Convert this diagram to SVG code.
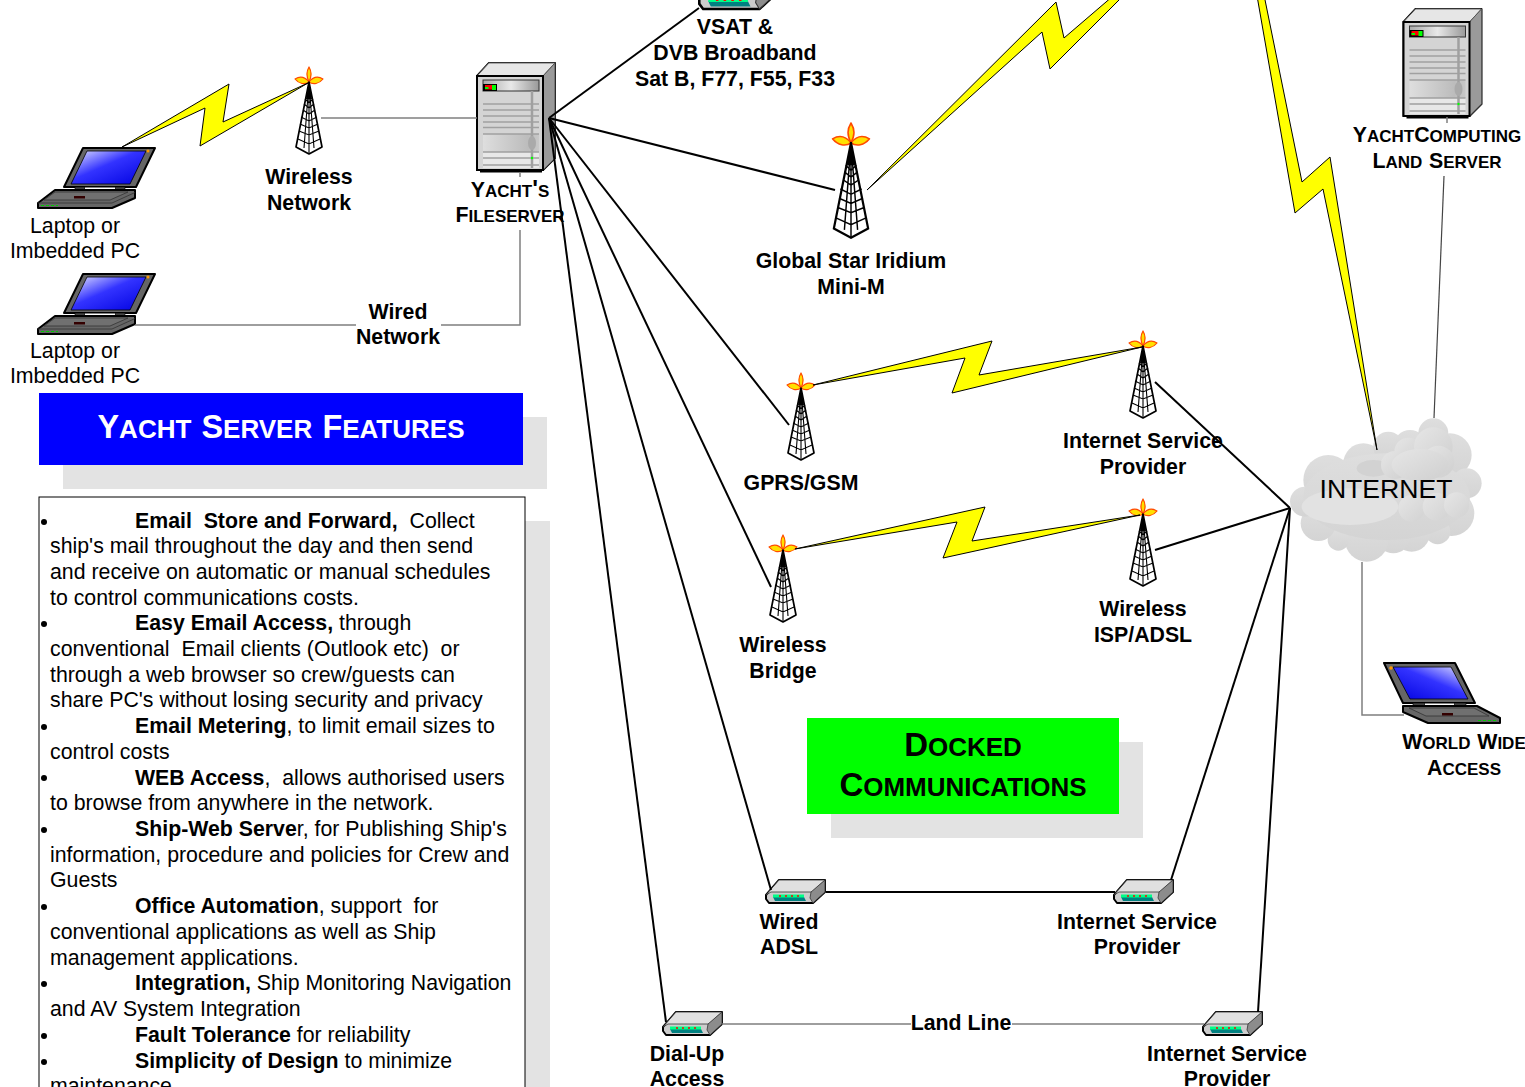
<svg xmlns="http://www.w3.org/2000/svg" width="1525" height="1087" viewBox="0 0 1525 1087">
<style>
text{font-family:"Liberation Sans",Arial,sans-serif;font-size:21.3px;fill:#000}
.b{font-weight:700}
.c{text-anchor:middle}
.sc{font-weight:700}
.sc .l{font-variant:small-caps;font-size:24.3px}
.big{font-size:33px}
.big .l{font-variant:small-caps;font-size:37.4px}
.big2{font-size:32.400px}
.big2 .l{font-variant:small-caps;font-size:36.600px}
.w{stroke:#000;stroke-width:2;fill:none}
.g{stroke:#7f7f7f;stroke-width:1.5;fill:none}
.bolt{fill:#ff0;stroke:#000;stroke-width:1;stroke-linejoin:miter}
.sh{fill:#e3e3e3}
.bu{fill:#000}
</style>
<defs>
<linearGradient id="sv" x1="0" y1="0" x2="1" y2="0"><stop offset="0" stop-color="#dedede"/><stop offset=".8" stop-color="#bcbcbc"/><stop offset="1" stop-color="#c8c8c8"/></linearGradient>
<linearGradient id="pn" x1="0" y1="0" x2="1" y2="0"><stop offset="0" stop-color="#aaa"/><stop offset=".5" stop-color="#e8e8e8"/><stop offset="1" stop-color="#999"/></linearGradient>
<linearGradient id="scr" x1="0" y1="0" x2="1" y2="1"><stop offset="0" stop-color="#e6e6ff"/><stop offset=".45" stop-color="#3333ff"/><stop offset="1" stop-color="#0000e0"/></linearGradient>
<linearGradient id="scrR" x1="1" y1="0" x2="0" y2="1"><stop offset="0" stop-color="#e6e6ff"/><stop offset=".45" stop-color="#3333ff"/><stop offset="1" stop-color="#0000e0"/></linearGradient>
<linearGradient id="cl" x1="0" y1="0" x2="1" y2="1"><stop offset="0" stop-color="#e6e6e6"/><stop offset="1" stop-color="#cfcfcf"/></linearGradient>
<linearGradient id="cl2" x1="0" y1="0" x2="1" y2="1"><stop offset="0" stop-color="#e6e6e6"/><stop offset="1" stop-color="#d2d2d2"/></linearGradient>
<linearGradient id="cl3" x1="0" y1="0" x2="0" y2="1"><stop offset="0" stop-color="#dedede"/><stop offset="1" stop-color="#d4d4d4"/></linearGradient>
<g id="tower">
<g fill="#ffe000" stroke="#ff4a00" stroke-width="1.2" stroke-linejoin="round">
<path d="M0 0C-3 5-3 9 0 15 3 9 3 5 0 0Z"/>
<path d="M-14 12C-9 9-4 10 0 15-4 18-10 17-14 12Z"/>
<path d="M14 12C9 9 4 10 0 15 4 18 10 17 14 12Z"/>
</g>
<path d="M0 15-13 80 0 87 13 80Z" fill="#fff" stroke="#000" stroke-width="1.7" stroke-linejoin="round"/>
<path d="M0 15-5 81M0 15 5 81M0 87V15M-4 32 0 36 4 32M-5 37 0 41 5 37M-6 43 0 47 6 43M-8 50 0 54 8 50M-9 57 0 61 9 57M-10 64 0 68 10 64M-11 72 0 77 11 72" fill="none" stroke="#000" stroke-width="1.100"/>
<path d="M0 15-3 32H3Z" fill="#000"/>
</g>
<g id="server">
<path d="M0 13 12 0H78V95L66 107H0Z" fill="#999" stroke="#000" stroke-width="2" stroke-linejoin="round"/>
<path d="M0 13 12 0H78L66 13Z" fill="#e6e6e6" stroke="#666"/>
<path d="M66 13 78 0V95L66 107Z" fill="#9a9a9a" stroke="#555"/>
<rect x="0" y="13" width="66" height="94" fill="#d4d4d4" stroke="#000" stroke-width="2"/>
<path d="M3 108.500H65" stroke="#000" stroke-width="2"/>
<rect x="6" y="71" width="56" height="18" fill="url(#sv)"/>
<rect x="6" y="89" width="56" height="16" fill="#e8e8e8"/>
<rect x="6" y="17" width="56" height="11" fill="url(#pn)" stroke="#333"/>
<rect x="6" y="21" width="14" height="7" fill="#000"/>
<rect x="8" y="22" width="8" height="4.500" fill="#f00"/><rect x="15" y="22" width="4" height="5" fill="#0f0"/><rect x="8" y="24" width="3.500" height="2" fill="#0f0"/>
<path d="M6 41H62M6 47H62M6 53H62M6 59H62M6 64.500H62M6 71H62M6 89H62M6 95H62M6 102H62" stroke="#a0a0a0" stroke-width="1.300"/>
<path d="M55 28V105" stroke="#a0a0a0" stroke-width="2.500"/>
<ellipse cx="55" cy="80" rx="4" ry="7" fill="#aaa"/>
<circle cx="55" cy="95" r="1.200" fill="#0f0"/>
</g>
<g id="laptop">
<path d="M45 0H117L98 39H26Z" fill="#666" stroke="#000" stroke-width="2" stroke-linejoin="round"/>
<path d="M49 3H108L92 36H33Z" fill="url(#scr)" stroke="#000" stroke-width=".8"/>
<circle cx="110" cy="3" r="1.500" fill="#f90"/>
<path d="M37 39H47V42H37ZM77 39H87V42H77Z" fill="#444" stroke="#000" stroke-width=".6"/>
<path d="M47 39.500H77V41H47Z" fill="#fff"/>
<path d="M0 55 17 42H97V50L74 60H0Z" fill="#666" stroke="#000" stroke-width="2" stroke-linejoin="round"/>
<path d="M0 55H74L97 44.500" fill="none" stroke="#333" stroke-width=".8"/>
<path d="M17 44H90L72 52H6Z" fill="#707070" stroke="#333" stroke-width=".8"/>
<rect x="36" y="48" width="11" height="2.500" fill="#300"/>
<path d="M3 57.500H20" stroke="#0c0" stroke-width="1" stroke-dasharray="3 2"/>
</g>
<g id="laptopR">
<path d="M0 0H71L91 40H19Z" fill="#666" stroke="#000" stroke-width="2" stroke-linejoin="round"/>
<path d="M9 4H67L84 36H26Z" fill="url(#scrR)" stroke="#000" stroke-width=".8"/>
<circle cx="7" cy="5" r="1.800" fill="#f90"/>
<path d="M29 40H41V43H29ZM70 40H82V43H70Z" fill="#444" stroke="#000" stroke-width=".6"/>
<path d="M41 40.500H70V42H41Z" fill="#fff"/>
<path d="M19 43H93L116 55V60H44L19 49Z" fill="#666" stroke="#000" stroke-width="2" stroke-linejoin="round"/>
<path d="M25 45H90L105 53H42Z" fill="#707070" stroke="#333" stroke-width=".8"/>
<rect x="58" y="50" width="11" height="2.500" fill="#300"/>
<path d="M94 57.500H112" stroke="#0c0" stroke-width="1" stroke-dasharray="3 2"/>
</g>
<g id="modem">
<path d="M1 17 14 2H60V14L48 25H4L1 21Z" fill="#ccc" stroke="#000" stroke-width="2" stroke-linejoin="round"/>
<path d="M1 17 14 2H60L47 14H6Z" fill="#e0e0e0" stroke="#333" stroke-width=".8"/>
<path d="M46 14 60 2V14L48 25 45 20Z" fill="#8c8c8c" stroke="#333" stroke-width=".8"/>
<path d="M8 19H39L41 23H10Z" fill="#008080"/>
<rect x="8" y="16.500" width="31" height="3" fill="#0f8"/>
<path d="M14 18h2M20 18h2M26 18h2M32 18h2" stroke="#f00" stroke-width="1.500"/>
</g>
</defs>

<rect class="sh" x="63" y="417" width="484" height="72"/>
<rect class="sh" x="525" y="521" width="25" height="566"/>
<rect class="sh" x="831" y="742" width="312" height="96"/>

<g id="wireless-network"><use href="#tower" x="309" y="67"/><text class="b c" x="309" y="184">Wireless</text><text class="b c" x="309" y="210">Network</text></g>
<g id="laptop-1"><use href="#laptop" x="38" y="148"/><text class="c" x="75" y="233">Laptop or</text><text class="c" x="75" y="258">Imbedded PC</text></g>
<g id="laptop-2"><use href="#laptop" x="38" y="274"/><text class="c" x="75" y="358">Laptop or</text><text class="c" x="75" y="383">Imbedded PC</text></g>
<g id="wired-network"><text class="b c" x="398" y="318.500">Wired</text><text class="b c" x="398" y="344">Network</text></g>
<g id="fileserver"><use href="#server" x="477" y="63"/><text class="sc c" x="510" y="197">Y<tspan class="l">acht's</tspan></text><text class="sc c" x="510" y="222">F<tspan class="l">ileserver</tspan></text></g>
<g id="vsat"><use href="#modem" transform="translate(698 -23) scale(1.28)"/><text class="b c" x="735" y="34">VSAT &amp;</text><text class="b c" x="735" y="60">DVB Broadband</text><text class="b c" x="735" y="86">Sat B, F77, F55, F33</text></g>
<g id="global-star"><use href="#tower" transform="translate(851 123) scale(1.32)"/><text class="b c" x="851" y="268">Global Star Iridium</text><text class="b c" x="851" y="294">Mini-M</text></g>
<g id="gprs"><use href="#tower" x="801" y="373"/><text class="b c" x="801" y="490">GPRS/GSM</text></g>
<g id="isp-1"><use href="#tower" x="1143" y="331"/><text class="b c" x="1143" y="448">Internet Service</text><text class="b c" x="1143" y="474">Provider</text></g>
<g id="bridge"><use href="#tower" x="783" y="535"/><text class="b c" x="783" y="652">Wireless</text><text class="b c" x="783" y="678">Bridge</text></g>
<g id="wisp"><use href="#tower" x="1143" y="499"/><text class="b c" x="1143" y="616">Wireless</text><text class="b c" x="1143" y="642">ISP/ADSL</text></g>
<g id="adsl"><use href="#modem" x="765" y="878"/><text class="b c" x="789" y="929">Wired</text><text class="b c" x="789" y="954">ADSL</text></g>
<g id="isp-2"><use href="#modem" x="1113" y="878"/><text class="b c" x="1137" y="929">Internet Service</text><text class="b c" x="1137" y="954">Provider</text></g>
<g id="dialup"><use href="#modem" x="662" y="1010"/><text class="b c" x="687" y="1061">Dial-Up</text><text class="b c" x="687" y="1086">Access</text></g>
<g id="landline"><text class="b c" x="961" y="1030">Land Line</text></g>
<g id="isp-3"><use href="#modem" x="1202" y="1010"/><text class="b c" x="1227" y="1061">Internet Service</text><text class="b c" x="1227" y="1086">Provider</text></g>
<g id="land-server"><use href="#server" x="1403.500" y="9"/><text class="sc c" x="1437" y="142">Y<tspan class="l">acht</tspan>C<tspan class="l">omputing</tspan></text><text class="sc c" x="1437" y="168">L<tspan class="l">and </tspan>S<tspan class="l">erver</tspan></text></g>
<g id="www"><use href="#laptopR" x="1384" y="663"/><text class="sc c" x="1464" y="749">W<tspan class="l">orld </tspan>W<tspan class="l">ide</tspan></text><text class="sc c" x="1464" y="775">A<tspan class="l">ccess</tspan></text></g>
<g id="internet">
<g transform="translate(1270 390) scale(.3333)">
<g fill="url(#cl3)">
<circle cx="175" cy="270" r="75"/><circle cx="280" cy="220" r="60"/><circle cx="355" cy="170" r="45"/><circle cx="420" cy="170" r="50"/><circle cx="490" cy="130" r="45"/><circle cx="540" cy="195" r="65"/><circle cx="590" cy="280" r="45"/><circle cx="545" cy="370" r="68"/><circle cx="503" cy="425" r="38"/><circle cx="425" cy="430" r="55"/><circle cx="370" cy="440" r="50"/><circle cx="290" cy="450" r="65"/><circle cx="205" cy="450" r="32"/><circle cx="145" cy="400" r="53"/><circle cx="105" cy="335" r="45"/>
<ellipse cx="350" cy="320" rx="250" ry="130"/>
</g>
<ellipse cx="240" cy="350" rx="145" ry="55" fill="#e2e2e2"/>
<ellipse cx="310" cy="235" rx="50" ry="25" fill="#d2d2d2"/>
<g fill="url(#cl)">
<circle cx="375" cy="225" r="42"/><circle cx="415" cy="185" r="42"/><circle cx="490" cy="170" r="58"/><circle cx="505" cy="215" r="48"/><ellipse cx="450" cy="225" rx="85" ry="48"/>
</g>
<g fill="url(#cl2)">
<circle cx="425" cy="355" r="40"/><circle cx="500" cy="350" r="42"/><circle cx="560" cy="345" r="38"/>
</g>
</g>
<text class="c" x="1386" y="498" style="font-size:26.600px">INTERNET</text>
</g>
<g id="yacht-features"><rect x="39" y="393" width="484" height="72" fill="#00f"/><text class="sc c big2" x="281" y="438" style="fill:#fff">Y<tspan class="l">acht </tspan>S<tspan class="l">erver </tspan>F<tspan class="l">eatures</tspan></text></g>
<g id="docked"><rect x="807" y="718" width="312" height="96" fill="#0f0"/><text class="sc c big" x="963" y="756">D<tspan class="l">ocked</tspan></text><text class="sc c big" x="963" y="796">C<tspan class="l">ommunications</tspan></text></g>
<g id="features">
<rect x="39" y="497" width="486" height="600" fill="#fff" stroke="#000"/>
<g id="feat-text">
<circle class="bu" cx="44" cy="522" r="3"/><circle class="bu" cx="44" cy="624" r="3"/><circle class="bu" cx="44" cy="727" r="3"/><circle class="bu" cx="44" cy="778" r="3"/><circle class="bu" cx="44" cy="830" r="3"/><circle class="bu" cx="44" cy="907" r="3"/><circle class="bu" cx="44" cy="984" r="3"/><circle class="bu" cx="44" cy="1036" r="3"/><circle class="bu" cx="44" cy="1062" r="3"/>
<text x="135" y="528" xml:space="preserve"><tspan class="b">Email  Store and Forward, </tspan> Collect</text>
<text x="50" y="553">ship's mail throughout the day and then send</text>
<text x="50" y="579">and receive on automatic or manual schedules</text>
<text x="50" y="605">to control communications costs.</text>
<text x="135" y="630"><tspan class="b">Easy Email Access,</tspan> through</text>
<text x="50" y="656" xml:space="preserve">conventional  Email clients (Outlook etc)  or</text>
<text x="50" y="682">through a web browser so crew/guests can</text>
<text x="50" y="707">share PC's without losing security and privacy</text>
<text x="135" y="733"><tspan class="b">Email Metering</tspan>, to limit email sizes to</text>
<text x="50" y="759">control costs</text>
<text x="135" y="785" xml:space="preserve"><tspan class="b">WEB Access</tspan>,  allows authorised users</text>
<text x="50" y="810">to browse from anywhere in the network.</text>
<text x="135" y="836"><tspan class="b">Ship-Web Serve</tspan>r, for Publishing Ship's</text>
<text x="50" y="862">information, procedure and policies for Crew and</text>
<text x="50" y="887">Guests</text>
<text x="135" y="913" xml:space="preserve"><tspan class="b">Office Automation</tspan>, support  for</text>
<text x="50" y="939">conventional applications as well as Ship</text>
<text x="50" y="965">management applications.</text>
<text x="135" y="990"><tspan class="b">Integration,</tspan> Ship Monitoring Navigation</text>
<text x="50" y="1016">and AV System Integration</text>
<text x="135" y="1042"><tspan class="b">Fault Tolerance</tspan> for reliability</text>
<text x="135" y="1068"><tspan class="b">Simplicity of Design</tspan> to minimize</text>
<text x="50" y="1093">maintenance.</text>
</g>
</g>

<g id="connectors">
<path class="g" d="M321 118H477"/>
<path class="g" d="M135 325H356M441 325H520V230"/>
<path class="g" d="M520 172V177"/>
<path class="g" d="M1447 117V123" stroke-width="1"/>
<path class="w" d="M549 118 699 8"/>
<path class="w" d="M549 118 835 190"/>
<path class="w" d="M549 118 789 425"/>
<path class="w" d="M549 118 771 587"/>
<path class="w" d="M549 118 771 890"/>
<path class="w" d="M549 118 666 1022"/>
<path class="w" d="M826 892H1115"/>
<path class="w" d="M1155 382 1290 508"/>
<path class="w" d="M1155 550 1290 508"/>
<path class="w" d="M1171 880 1290 508"/>
<path class="w" d="M1258 1012 1290 508"/>
<path class="g" d="M722 1024H911M1012 1024H1204"/>
<path d="M1444 176 1434 418" stroke="#444" stroke-width="1.200" fill="none"/>
<path class="g" d="M1362 562V715H1404"/>
<polygon class="bolt" points="122,147 229,84 223,122 308,83 200,146 205,108"/>
<polygon class="bolt" points="813,385 992,341 979,375 1142,347 952,393 965,358"/>
<polygon class="bolt" points="795,549 985,507 972,541 1140,515 943,558 957,522"/>
<polygon class="bolt" points="867,190 1056,2 1064,38 1120,-10 1129,-10 1050,69 1042,32"/>
<polygon class="bolt" points="1256,-10 1295,213 1323,189 1377,450 1330,157 1302,182 1263,-10"/>
</g>
</svg>
